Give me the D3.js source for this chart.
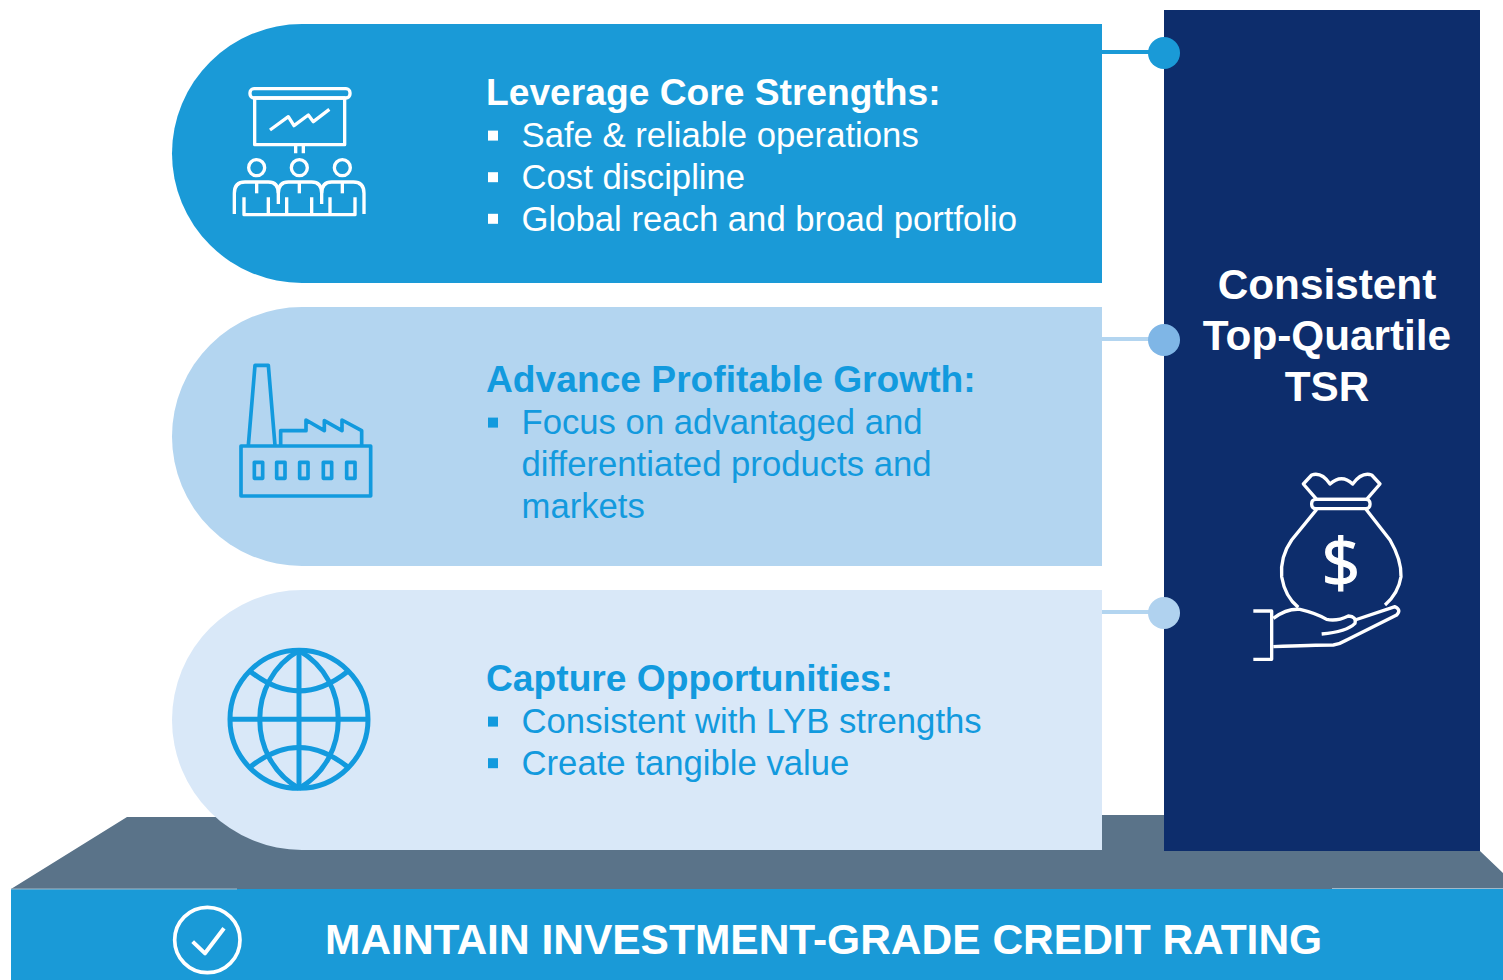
<!DOCTYPE html>
<html>
<head>
<meta charset="utf-8">
<script src="https://d3js.org/d3.v7.min.js"></script>
<style>
    html, body { margin: 0; padding: 0; background: #fff; }
    svg { display: block; }
    text { font-family: "Liberation Sans", Arial, sans-serif; }
</style>
</head>
<body>
<div id="chartContainer"></div>
<script>
const titles = ['Leverage Core Strengths:', 'Advance Profitable Growth:', 'Capture Opportunities:'];
const bullets = [
    [['Safe & reliable operations'], ['Cost discipline'], ['Global reach and broad portfolio']],
    [['Focus on advantaged and', 'differentiated products and', 'markets']],
    [['Consistent with LYB strengths'], ['Create tangible value']],
];
const pillFills = ['#1a9ad7', '#b3d5f0', '#d9e8f8'];
const textFills = ['#ffffff', '#129ade', '#129ade'];
const pillTops = [24, 307, 590];
const pillHeights = [259, 259, 260];
const titleBaselines = [105, 392, 691];
const connectorYs = [52, 339, 612];
const connectorLines = ['#1a9ad7', '#b3d5f0', '#b3d5f0'];
const connectorDots = ['#1a9ad7', '#7fb6e6', '#b0d2ef'];
const sideLines = ['Consistent', 'Top-Quartile', 'TSR'];
const footerLabel = 'MAINTAIN INVESTMENT-GRADE CREDIT RATING';

const svgWidth = 1503;
const svgHeight = 980;
const pillLeft = 172;
const pillRight = 1102;
const pillRadius = 130;
const rowHeight = 41.6;

const svg = d3.select('#chartContainer').append('svg').attr('width', svgWidth).attr('height', svgHeight);

// base behind everything
svg.append('path')
    .attr('d', 'M11,889 L127,817 H1102 V815 H1480 V851 L1503,873 V889 Z')
    .attr('fill', '#5a7389');

svg.append('rect').attr('x', 11).attr('y', 889).attr('width', 1492).attr('height', 91).attr('fill', '#1a9ad7');
svg.append('rect').attr('x', 11).attr('y', 888.5).attr('width', 226).attr('height', 1).attr('fill', '#9fb9ca');
svg.append('rect').attr('x', 1332).attr('y', 888).attr('width', 171).attr('height', 1).attr('fill', '#9fb9ca');

svg.append('rect').attr('x', 1164).attr('y', 10).attr('width', 316).attr('height', 841).attr('fill', '#0d2d6c');

const pillPath = (top, h) => {
    const r = pillRadius;
    return `M${pillRight},${top} H${pillLeft + r} A${r},${h / 2} 0 0 0 ${pillLeft + r},${top + h} H${pillRight} Z`;
};

const rows = svg.selectAll('.row').data(titles).enter().append('g').attr('class', 'row');

rows.append('path')
    .attr('d', (d, i) => pillPath(pillTops[i], pillHeights[i]))
    .attr('fill', (d, i) => pillFills[i]);

rows.append('line')
    .attr('x1', pillRight)
    .attr('x2', 1164)
    .attr('y1', (d, i) => connectorYs[i])
    .attr('y2', (d, i) => connectorYs[i])
    .attr('stroke', (d, i) => connectorLines[i])
    .attr('stroke-width', 4);

rows.append('circle')
    .attr('cx', 1164)
    .attr('cy', (d, i) => connectorYs[i] + 1)
    .attr('r', 16)
    .attr('fill', (d, i) => connectorDots[i]);

rows.append('text')
    .attr('x', 486)
    .attr('y', (d, i) => titleBaselines[i])
    .attr('font-size', 37.2)
    .attr('font-weight', 700)
    .attr('fill', (d, i) => textFills[i])
    .text((d) => d);

rows.each(function (d, i) {
    const g = d3.select(this);
    let line = 1;
    bullets[i].forEach((item) => {
        g.append('rect')
            .attr('x', 488)
            .attr('y', titleBaselines[i] + line * rowHeight - 16)
            .attr('width', 10)
            .attr('height', 10)
            .attr('fill', textFills[i]);
        item.forEach((t) => {
            g.append('text')
                .attr('x', 521.5)
                .attr('y', titleBaselines[i] + line * rowHeight + 0.8)
                .attr('font-size', 34.7)
                .attr('fill', textFills[i])
                .text(t);
            line += 1;
        });
    });
});

svg.selectAll('.side').data(sideLines).enter().append('text')
    .attr('class', 'side')
    .attr('x', 1327)
    .attr('y', (d, i) => 299 + i * 51)
    .attr('text-anchor', 'middle')
    .attr('font-size', 42.3)
    .attr('font-weight', 700)
    .attr('fill', '#fff')
    .text((d) => d);

svg.append('text')
    .attr('x', 325)
    .attr('y', 954)
    .attr('font-size', 42.5)
    .attr('font-weight', 700)
    .attr('fill', '#fff')
    .text(footerLabel);

const icon = (x, y, color, width) => svg.append('g')
    .attr('transform', `translate(${x},${y}) scale(${1 / 3})`)
    .attr('fill', 'none')
    .attr('stroke', color)
    .attr('stroke-width', width)
    .attr('stroke-linejoin', 'round');

// audience + screen
const people = icon(160, 10, '#fff', 10);
people.append('rect').attr('x', 270).attr('y', 236).attr('width', 300).attr('height', 28).attr('rx', 12);
people.append('rect').attr('x', 284).attr('y', 264).attr('width', 270).attr('height', 140);
people.append('path').attr('d', 'M407,404 V430 M430,404 V430');
people.append('path').attr('d', 'M330,360 L385,320 L402,347 L445,315 L460,335 L508,298');
[290, 418, 547].forEach((cx) => {
    people.append('circle').attr('cx', cx).attr('cy', 473).attr('r', 24);
    people.append('path').attr('d', `M${cx},516 V550`);
});
people.append('path').attr('d', 'M223,612 V550 Q223,516 255,516 H325 Q355,516 355,550 V582');
people.append('path').attr('d', 'M355,550 Q355,516 385,516 H455 Q485,516 485,550 V582');
people.append('path').attr('d', 'M485,550 Q485,516 515,516 H580 Q612,516 612,550 V612');
people.append('path').attr('d', 'M252,562 V614 H585 V562 M325,562 V614 M380,562 V614 M455,562 V614 M510,562 V614');

// factory
const factory = icon(160, 300, '#129ade', 11);
factory.append('path').attr('d', 'M265,436 L285,196 H325 L345,436');
factory.append('path').attr('d', 'M362,436 V392 H438 V360 L493,392 V362 L546,392 V360 L605,392 V436');
factory.append('rect').attr('x', 243).attr('y', 438).attr('width', 389).attr('height', 150);
[283, 350, 419, 490, 560].forEach((x) => {
    factory.append('rect').attr('x', x).attr('y', 487).attr('width', 25).attr('height', 48);
});

// globe
const globe = icon(210, 630, '#129ade', 15);
globe.append('circle').attr('cx', 267).attr('cy', 268).attr('r', 207);
globe.append('path').attr('d', 'M267,62 C110,150 110,386 267,475 M267,62 C424,150 424,386 267,475');
globe.append('path').attr('d', 'M267,62 V475 M60,268 H474');
globe.append('path').attr('d', 'M122,125 Q267,240 412,125 M122,410 Q267,295 412,410');

// money bag on a hand
const bag = icon(1220, 450, '#fff', 10);
bag.append('path').attr('d', 'M250,102 L275,75 Q305,65 330,102 Q365,70 398,102 Q425,65 455,75 L480,102 L440,148 H290 Z');
bag.append('rect').attr('x', 275).attr('y', 148).attr('width', 175).attr('height', 28).attr('rx', 12);
bag.append('path').attr('d', 'M290,178 L215,270 Q180,320 185,380 Q195,440 235,472');
bag.append('path').attr('d', 'M438,178 L510,270 Q545,330 543,380 Q535,430 495,465');
bag.append('path').attr('d', 'M100,483 H155 V628 H100');
bag.append('path').attr('d', 'M160,505 Q200,475 240,478 Q290,490 320,508 Q350,515 385,498 Q410,500 405,520 Q380,545 305,552');
bag.append('path').attr('d', 'M160,590 Q280,585 340,585 Q360,582 380,570 L530,495 Q545,480 525,470 L405,510');
svg.append('text')
    .attr('x', 1341)
    .attr('y', 587)
    .attr('text-anchor', 'middle')
    .attr('font-size', 68)
    .attr('fill', '#fff')
    .attr('stroke', '#fff')
    .attr('stroke-width', 1.2)
    .style('font-family', '"Open Sans"')
    .text('$');

// check mark
const check = icon(0, 790, '#fff', 11);
check.append('circle').attr('cx', 622).attr('cy', 450).attr('r', 98);
check.append('path').attr('d', 'M578,455 L615,490 L672,415').attr('stroke-width', 12);
</script>
</body>
</html>
